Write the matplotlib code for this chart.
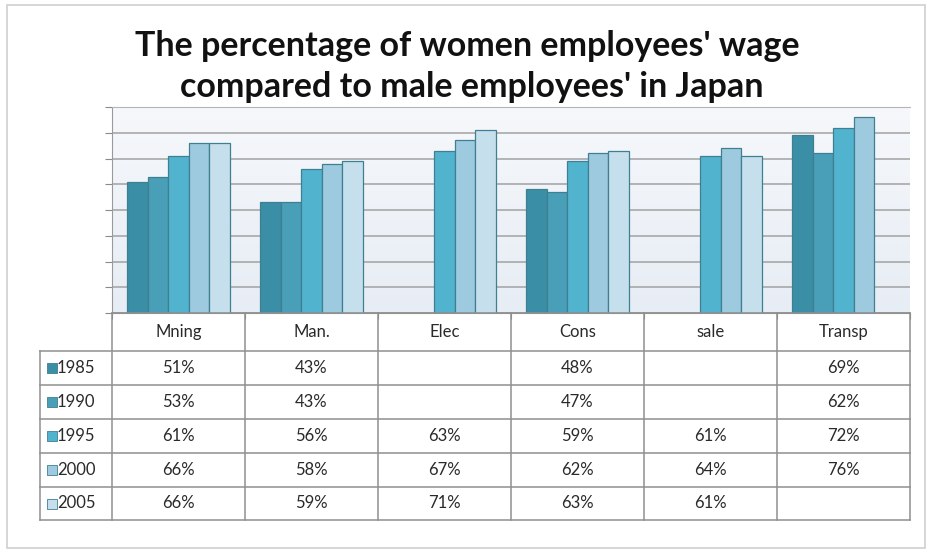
import numpy as np, matplotlib
matplotlib.use('Agg')
import matplotlib.pyplot as plt
from matplotlib.patches import Rectangle
from matplotlib.colors import LinearSegmentedColormap

plt.rcParams['font.family'] = ['Lato', 'DejaVu Sans']

categories = ['Mning', 'Man.', 'Elec', 'Cons', 'sale', 'Transp']
years = ['1985', '1990', '1995', '2000', '2005']
nan = np.nan
v1985 = [51, 43, nan, 48, nan, 69]
v1990 = [53, 43, nan, 47, nan, 62]
v1995 = [61, 56, 63, 59, 61, 72]
v2000 = [66, 58, 67, 62, 64, 76]
v2005 = [66, 59, 71, 63, 61, nan]
series = [v1985, v1990, v1995, v2000, v2005]
colors = ['#3a8ea5', '#4a9fb8', '#52b3ce', '#9ecadf', '#c6dfec']
edge = '#3f7f92'

W, H = 931, 553
fig = plt.figure(figsize=(W / 100, H / 100), dpi=100)


def box(l, t, r, b):
    return [l / W, 1 - b / H, (r - l) / W, (b - t) / H]


# outer chart frame
fig.add_artist(Rectangle((7 / W, 1 - 548 / H), (925 - 7) / W, (548 - 5) / H,
                         transform=fig.transFigure, fill=False, ec='#cfcfcf', lw=1.2))

fig.text(467 / W, 1 - 46 / H, "The percentage of women employees' wage",
         ha='center', va='center', fontsize=24.5, weight='bold', color='#111111')
fig.text(472 / W, 1 - 87 / H, "compared to male employees' in Japan",
         ha='center', va='center', fontsize=24.5, weight='bold', color='#111111')

# ---------- bars ----------
ax = fig.add_axes(box(112, 107, 910, 313))
x = np.arange(len(categories))
grad = LinearSegmentedColormap.from_list('bg', ['#f6f8fb', '#e7edf5'])
ax.imshow(np.linspace(0, 1, 200)[:, None], extent=(-0.5, 5.5, 0, 80), cmap=grad,
          aspect='auto', zorder=0)
bw = 0.154
for i, (vals, col) in enumerate(zip(series, colors)):
    ax.bar(x + (i - 2) * bw, vals, bw, color=col, edgecolor=edge, lw=0.9, zorder=3)
ax.set_xlim(-0.5, 5.5)
ax.set_ylim(0, 80)
ax.set_yticks(range(0, 81, 10))
ax.yaxis.grid(True, color='#a2a2a2', lw=1.1, zorder=1)
ax.set_axisbelow(True)
ax.tick_params(axis='y', length=5, color='#8a8a8a', labelleft=False)
ax.set_xticks(np.arange(-0.5, 5.6, 1))
ax.tick_params(axis='x', length=4, color='#8a8a8a', labelbottom=False)
for s in ['left', 'bottom']:
    ax.spines[s].set_color('#9a9a9a')
ax.spines['top'].set_color('#b5b5b5')
ax.spines['right'].set_visible(False)

# ---------- data table ----------
tax = fig.add_axes(box(40, 313, 910, 520))
lab_w = 72 / 133
tax.set_xlim(-0.5 - lab_w, 5.5)
row_edges = [0, 38, 72, 106, 140, 174, 207]
tax.set_ylim(207, 0)
tax.axis('off')
lc = '#8f8f8f'
for k, yv in enumerate(row_edges):
    x0 = -0.5 if k == 0 else -0.5 - lab_w
    tax.plot([x0, 5.5], [yv, yv], color=lc, lw=1.1, clip_on=False)
tax.plot([-0.5 - lab_w] * 2, [row_edges[1], row_edges[-1]], color=lc, lw=1.1, clip_on=False)
for xb in np.arange(-0.5, 5.6, 1):
    tax.plot([xb, xb], [0, row_edges[-1]], color=lc, lw=1.1, clip_on=False)

tc = '#2a2a2a'
fs = 12
for j, c in enumerate(categories):
    tax.text(j, (row_edges[0] + row_edges[1]) / 2, c, ha='center', va='center', fontsize=fs, color=tc)
for i, (yr, vals, col) in enumerate(zip(years, series, colors)):
    yc = (row_edges[i + 1] + row_edges[i + 2]) / 2
    tax.plot([-0.5 - lab_w + 12 / 133], [yc], marker='s', ms=7, color=col, mec=edge, mew=0.6,
             clip_on=False)
    tax.text(-0.5 - lab_w + 17 / 133, yc, yr, ha='left', va='center', fontsize=fs, color=tc)
    for j, v in enumerate(vals):
        if not np.isnan(v):
            tax.text(j, yc, f'{v:.0f}%', ha='center', va='center', fontsize=fs, color=tc)

fig.savefig('out.png', dpi=100, facecolor='white')
